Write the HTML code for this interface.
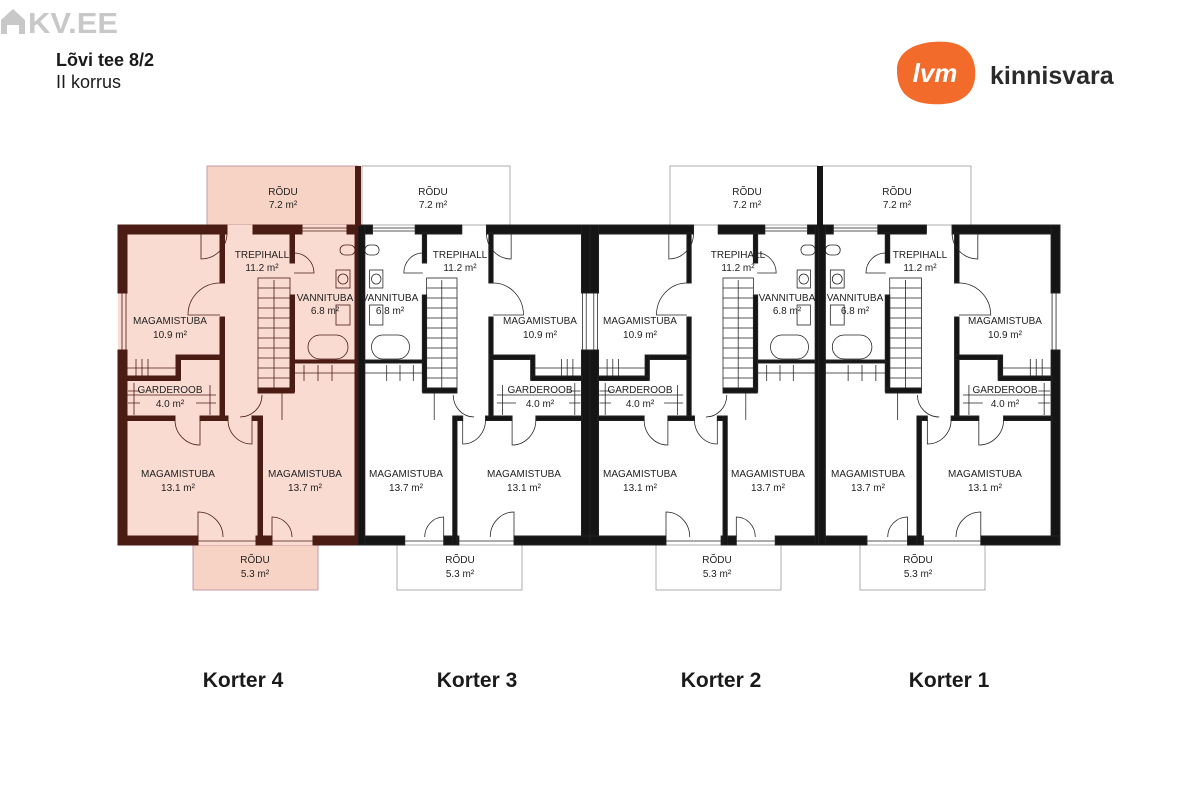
<!DOCTYPE html>
<html><head><meta charset="utf-8"><style>
html,body{margin:0;padding:0;background:#fff;}
svg{display:block;font-family:"Liberation Sans",sans-serif;}
.t{font-size:10px;text-anchor:middle;fill:#222;}
</style></head><body>
<svg width="1180" height="788" viewBox="0 0 1180 788" xmlns="http://www.w3.org/2000/svg">
<defs>
<g id="unit">
  <rect x="0" y="0" width="109" height="9"/>
  <rect x="135" y="0" width="49" height="9"/>
  <rect x="229" y="0" width="13" height="9"/>
  <rect x="0" y="0" width="9" height="68"/>
  <rect x="0" y="125" width="9" height="195"/>
  <rect x="0" y="311" width="80" height="9"/>
  <rect x="138" y="311" width="16" height="9"/>
  <rect x="195" y="311" width="47" height="9"/>
  <rect x="237" y="0" width="7" height="320"/>
  <rect x="102" y="8" width="4.5" height="50"/>
  <rect x="102" y="92" width="4.5" height="103"/>
  <rect x="60" y="130" width="46" height="4.5"/>
  <rect x="58" y="130" width="4.5" height="25"/>
  <rect x="8" y="151" width="54" height="4.5"/>
  <rect x="8" y="191" width="49" height="4.5"/>
  <rect x="82" y="191" width="28" height="4.5"/>
  <rect x="134" y="191" width="10" height="4.5"/>
  <rect x="140" y="191" width="4.5" height="129"/>
  <rect x="172" y="8" width="4.5" height="30"/>
  <rect x="172" y="70" width="4.5" height="97"/>
  <rect x="140" y="163" width="36" height="5"/>
  <rect x="176" y="135" width="61" height="3"/>
  <g fill="none" stroke-width="0.8">
    <rect x="140" y="53" width="32" height="110"/>
    <path d="M140 63h32M140 73h32M140 83h32M140 93h32M140 103h32M140 113h32M140 123h32M140 133h32M140 143h32M140 153h32M156 55v108"/>
    <path d="M109 0v8M135 0v8M184 3h45M184 6h45M8 68v57M4 68v57M80 316h58M154 316h41"/>
    <path d="M109 8a26 26 0 0 1 -26 26v-26M176 28a20 20 0 0 1 20 20h-20M102 58a32 32 0 0 0 -32 32h32M57 195a25 25 0 0 0 25 25v-25M110 195a24 24 0 0 0 24 24v-24M144 170a22 22 0 0 1 -22 22M80 312v-25a25 25 0 0 1 25 25M154 312v-20a20 20 0 0 1 20 20"/>
    <path d="M8 143h50M18 134v18M24 134v18M30 134v18M8 170h90M16 158v32M10 166h12M10 178h12M164 168v27M78 178h20M92 160v30M176 148h61M186 140v16M200 140v16M214 140v16"/>
    <rect x="190" y="110" width="40" height="24" rx="12"/>
    <rect x="218" y="45" width="14" height="18"/>
    <circle cx="225" cy="54" r="5"/>
    <rect x="218" y="80" width="14" height="20"/>
    <rect x="222" y="20" width="15" height="10" rx="5"/>
  </g>
</g>
</defs>

<text x="28" y="33" font-size="29" font-weight="bold" fill="#c8c8c8" textLength="90" lengthAdjust="spacingAndGlyphs">KV.EE</text>
<path d="M1 34V20l12-11 12 11v14h-6v-9h-12v9z" fill="#c8c8c8"/>
<text x="56" y="66" font-size="18" font-weight="bold" fill="#1a1a1a">Lõvi tee 8/2</text>
<text x="56" y="88" font-size="18" fill="#1a1a1a">II korrus</text>
<path d="M897 70c0-24 30-30 50-28 22 2 30 18 28 36-2 20-20 28-45 26-24-2-33-14-33-34z" fill="#f26b2a"/>
<text x="935" y="82" font-size="26" font-style="italic" font-weight="bold" fill="#fff" text-anchor="middle">lvm</text>
<text x="990" y="84" font-size="25" font-weight="bold" fill="#2a2a2a">kinnisvara</text>

<rect x="207" y="166" width="151" height="59" fill="#f7d3c5" stroke="#b89" stroke-width="0.8"/>
<rect x="362" y="166" width="148" height="59" fill="#fff" stroke="#999" stroke-width="0.8"/>
<rect x="670" y="166" width="148" height="59" fill="#fff" stroke="#999" stroke-width="0.8"/>
<rect x="822" y="166" width="149" height="59" fill="#fff" stroke="#999" stroke-width="0.8"/>
<rect x="193" y="545" width="125" height="45" fill="#f7d3c5" stroke="#b89" stroke-width="0.8"/>
<rect x="397" y="545" width="125" height="45" fill="#fff" stroke="#999" stroke-width="0.8"/>
<rect x="656" y="545" width="125" height="45" fill="#fff" stroke="#999" stroke-width="0.8"/>
<rect x="860" y="545" width="125" height="45" fill="#fff" stroke="#999" stroke-width="0.8"/>
<rect x="118" y="225" width="242" height="320" fill="#fadbd1"/>

<g transform="translate(118,225)" fill="#4a1c14" stroke="#4a1c14"><use href="#unit"/></g>
<g transform="translate(590,225) scale(-0.95,1)" fill="#151515" stroke="#222"><use href="#unit"/></g>
<g transform="translate(590,225) scale(0.95,1)" fill="#151515" stroke="#222"><use href="#unit"/></g>
<g transform="translate(1060,225) scale(-0.99,1)" fill="#151515" stroke="#222"><use href="#unit"/></g>
<rect x="355" y="166" width="6" height="60" fill="#4a1c14"/>
<rect x="817" y="166" width="6" height="60" fill="#151515"/>

<g class="t">
<text x="283" y="195">RÕDU</text><text x="283" y="208">7.2 m²</text>
<text x="262" y="258">TREPIHALL</text><text x="262" y="271">11.2 m²</text>
<text x="325" y="301">VANNITUBA</text><text x="325" y="314">6.8 m²</text>
<text x="170" y="324">MAGAMISTUBA</text><text x="170" y="338">10.9 m²</text>
<text x="170" y="393">GARDEROOB</text><text x="170" y="407">4.0 m²</text>
<text x="178" y="477">MAGAMISTUBA</text><text x="178" y="491">13.1 m²</text>
<text x="305" y="477">MAGAMISTUBA</text><text x="305" y="491">13.7 m²</text>
<text x="255" y="563">RÕDU</text><text x="255" y="577">5.3 m²</text>

<text x="433" y="195">RÕDU</text><text x="433" y="208">7.2 m²</text>
<text x="460" y="258">TREPIHALL</text><text x="460" y="271">11.2 m²</text>
<text x="390" y="301">VANNITUBA</text><text x="390" y="314">6.8 m²</text>
<text x="540" y="324">MAGAMISTUBA</text><text x="540" y="338">10.9 m²</text>
<text x="540" y="393">GARDEROOB</text><text x="540" y="407">4.0 m²</text>
<text x="406" y="477">MAGAMISTUBA</text><text x="406" y="491">13.7 m²</text>
<text x="524" y="477">MAGAMISTUBA</text><text x="524" y="491">13.1 m²</text>
<text x="460" y="563">RÕDU</text><text x="460" y="577">5.3 m²</text>

<text x="747" y="195">RÕDU</text><text x="747" y="208">7.2 m²</text>
<text x="738" y="258">TREPIHALL</text><text x="738" y="271">11.2 m²</text>
<text x="787" y="301">VANNITUBA</text><text x="787" y="314">6.8 m²</text>
<text x="640" y="324">MAGAMISTUBA</text><text x="640" y="338">10.9 m²</text>
<text x="640" y="393">GARDEROOB</text><text x="640" y="407">4.0 m²</text>
<text x="640" y="477">MAGAMISTUBA</text><text x="640" y="491">13.1 m²</text>
<text x="768" y="477">MAGAMISTUBA</text><text x="768" y="491">13.7 m²</text>
<text x="717" y="563">RÕDU</text><text x="717" y="577">5.3 m²</text>

<text x="897" y="195">RÕDU</text><text x="897" y="208">7.2 m²</text>
<text x="920" y="258">TREPIHALL</text><text x="920" y="271">11.2 m²</text>
<text x="855" y="301">VANNITUBA</text><text x="855" y="314">6.8 m²</text>
<text x="1005" y="324">MAGAMISTUBA</text><text x="1005" y="338">10.9 m²</text>
<text x="1005" y="393">GARDEROOB</text><text x="1005" y="407">4.0 m²</text>
<text x="868" y="477">MAGAMISTUBA</text><text x="868" y="491">13.7 m²</text>
<text x="985" y="477">MAGAMISTUBA</text><text x="985" y="491">13.1 m²</text>
<text x="918" y="563">RÕDU</text><text x="918" y="577">5.3 m²</text>
</g>

<g font-size="21" font-weight="bold" fill="#1a1a1a" text-anchor="middle">
<text x="243" y="687">Korter 4</text>
<text x="477" y="687">Korter 3</text>
<text x="721" y="687">Korter 2</text>
<text x="949" y="687">Korter 1</text>
</g>
</svg>
</body></html>
